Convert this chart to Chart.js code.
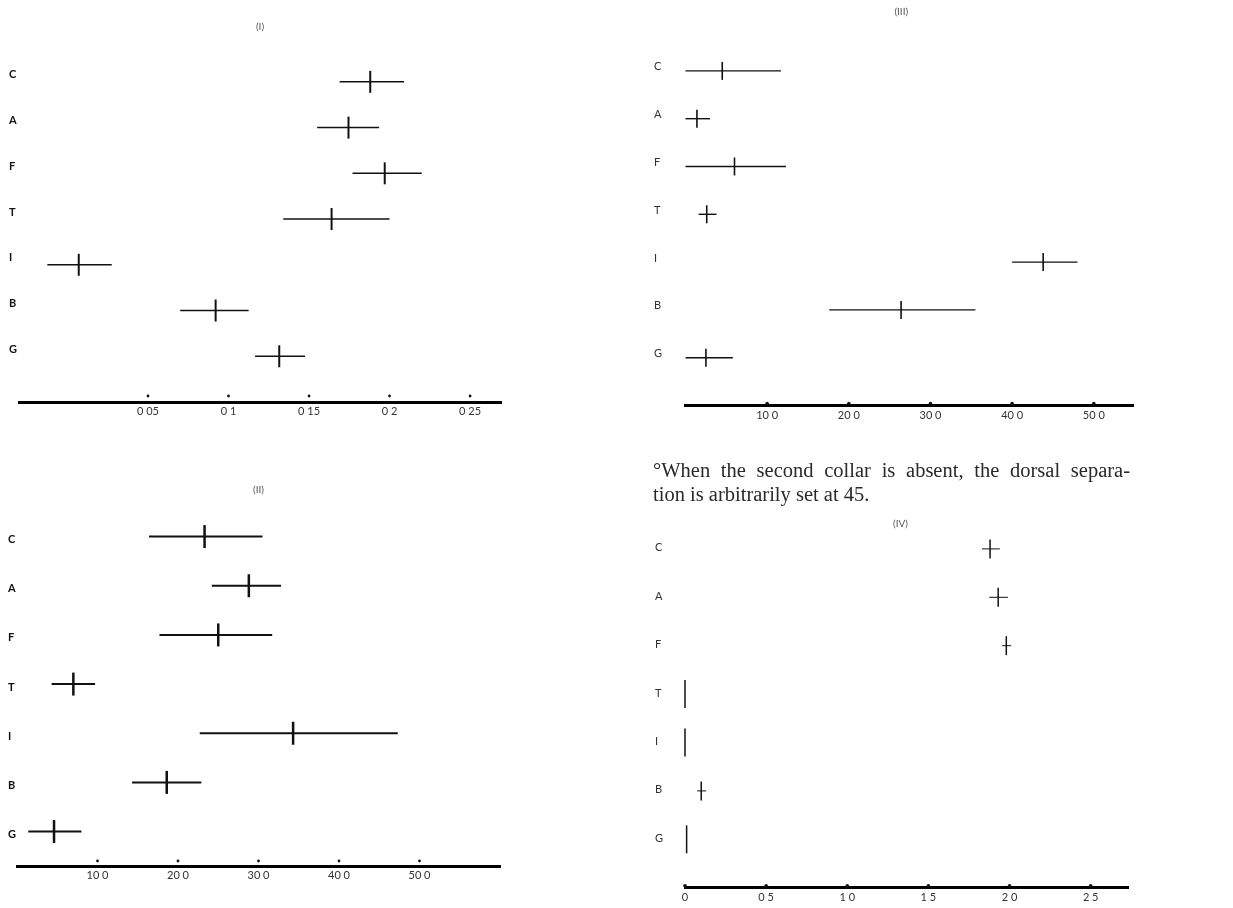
<!DOCTYPE html>
<html>
<head>
<meta charset="utf-8">
<script src="https://cdn.jsdelivr.net/npm/chart.js@4"></script>
<style>
  body { margin: 0; background: #fff; }
  #page { position: relative; width: 1233px; height: 908px; overflow: hidden; }
  canvas { position: absolute; }
  .note { position: absolute; font-family: "Liberation Serif", "DejaVu Serif", serif; font-size: 20.5px; line-height: 20px; color: #2a2a2a; white-space: nowrap; }
  #note1 { left: 653px; top: 460px; width: 477px; text-align: justify; text-align-last: justify; }
  #note2 { left: 653px; top: 484px; }
</style>
</head>
<body>
<div id="page">
  <canvas id="c1" width="600" height="440" style="left:0;top:0"></canvas>
  <canvas id="c3" width="613" height="440" style="left:620px;top:0"></canvas>
  <canvas id="c2" width="600" height="468" style="left:0;top:440px"></canvas>
  <canvas id="c4" width="613" height="468" style="left:620px;top:440px"></canvas>
  <div class="note" id="note1">°When the second collar is absent, the dorsal separa-</div>
  <div class="note" id="note2">tion is arbitrarily set at 45.</div>
</div>
<script>
// rows, top to bottom
const categories = ['C', 'A', 'F', 'T', 'I', 'B', 'G'];

// panel (I)
const meanI = [0.188, 0.1745, 0.197, 0.164, 0.007, 0.092, 0.1315];
const lowI = [0.169, 0.155, 0.177, 0.134, -0.0125, 0.070, 0.1165];
const highI = [0.209, 0.1935, 0.220, 0.200, 0.0275, 0.1125, 0.1475];
const tickValsI = [0.05, 0.1, 0.15, 0.2, 0.25];
const tickLabelsI = ['0 05', '0 1', '0 15', '0 2', '0 25'];

// panel (II)
const meanII = [23.3, 28.8, 25.0, 7.0, 34.3, 18.6, 4.6];
const lowII = [16.4, 24.2, 17.7, 4.3, 22.7, 14.3, 1.4];
const highII = [30.5, 32.8, 31.7, 9.7, 47.3, 22.9, 8.0];
const tickValsII = [10, 20, 30, 40, 50];
const tickLabelsII = ['10 0', '20 0', '30 0', '40 0', '50 0'];

// panel (III)
const meanIII = [4.5, 1.4, 6.0, 2.6, 43.8, 26.4, 2.5];
const lowIII = [0, 0, 0, 1.6, 40.0, 17.6, 0];
const highIII = [11.7, 3.0, 12.3, 3.8, 48.0, 35.5, 5.8];
const tickValsIII = [10, 20, 30, 40, 50];
const tickLabelsIII = ['10 0', '20 0', '30 0', '40 0', '50 0'];

// panel (IV)
const meanIV = [1.88, 1.93, 1.98, 0, 0, 0.10, 0.01];
const lowIV = [1.83, 1.875, 1.955, 0, 0, 0.075, 0.01];
const highIV = [1.94, 1.99, 2.01, 0, 0, 0.13, 0.01];
const tickValsIV = [0, 0.5, 1, 1.5, 2, 2.5];
const tickLabelsIV = ['0', '0 5', '1 0', '1 5', '2 0', '2 5'];

const AXIS_FONT = 'Lato, "DejaVu Sans", sans-serif';

// small dots / bumps at each x tick, above the axis line
const tickDots = {
  id: 'tickDots',
  afterDraw(chart, args, opts) {
    const x = chart.scales.x, ctx = chart.ctx;
    ctx.save();
    ctx.fillStyle = '#111';
    x.ticks.forEach(t => {
      ctx.beginPath();
      ctx.arc(x.getPixelForValue(t.value), chart.chartArea.bottom - opts.offset, opts.r, 0, Math.PI * 2);
      ctx.fill();
    });
    ctx.restore();
  }
};

// panel caption like (I), centred over the plot area
const panelTitle = {
  id: 'panelTitle',
  afterDraw(chart, args, opts) {
    const a = chart.chartArea, ctx = chart.ctx;
    ctx.save();
    ctx.font = '10px ' + AXIS_FONT;
    ctx.fillStyle = '#555';
    ctx.textAlign = 'center';
    ctx.textBaseline = 'middle';
    ctx.fillText(opts.text, (a.left + a.right) / 2 + (opts.dx || 0), opts.y);
    ctx.restore();
  }
};

function makePanel(id, p, mean, low, high, tickVals, tickLabels) {
  const n = categories.length;
  const datasets = [];
  // horizontal range lines, one per row
  categories.forEach((c, i) => {
    datasets.push({
      data: [{ x: low[i], y: n - i }, { x: high[i], y: n - i }],
      showLine: true,
      borderColor: '#111',
      borderWidth: p.lineW,
      pointRadius: 0,
      clip: false
    });
  });
  // vertical mark at the mean
  datasets.push({
    data: mean.map((v, i) => ({ x: v, y: n - i })),
    showLine: false,
    pointStyle: 'line',
    rotation: 90,
    pointRadius: ctx => (low[ctx.dataIndex] === high[ctx.dataIndex] ? p.tickR0 : p.tickR),
    pointBorderWidth: p.tickW,
    pointBorderColor: '#111',
    pointBackgroundColor: '#111',
    clip: false
  });

  new Chart(document.getElementById(id), {
    type: 'scatter',
    data: { datasets },
    plugins: [tickDots, panelTitle],
    options: {
      responsive: false,
      animation: false,
      layout: { padding: p.padding },
      plugins: {
        legend: { display: false },
        tooltip: { enabled: false },
        tickDots: { offset: p.dotOff, r: p.dotR },
        panelTitle: { text: p.title, y: p.titleY, dx: p.titleDx }
      },
      scales: {
        x: {
          type: 'linear',
          min: p.xMin,
          max: p.xMax,
          afterBuildTicks: s => { s.ticks = tickVals.map(v => ({ value: v })); },
          afterFit: s => { s.height = p.axisH; },
          grid: { display: false, drawTicks: false },
          border: { display: true, width: 3, color: '#000' },
          ticks: {
            padding: 3,
            color: '#333',
            font: { family: AXIS_FONT, size: 11 },
            maxRotation: 0,
            autoSkip: false,
            callback: (v, i) => tickLabels[i]
          }
        },
        y: {
          type: 'linear',
          min: p.yMin,
          max: p.yMax,
          afterBuildTicks: s => { s.ticks = categories.map((c, i) => ({ value: n - i })); },
          afterFit: s => { s.width = p.yWidth; },
          grid: { display: false, drawTicks: false },
          border: { display: false },
          ticks: {
            crossAlign: 'far',
            padding: 0,
            labelOffset: p.labelOffset,
            color: p.labelColor,
            font: { family: AXIS_FONT, size: 11, weight: p.labelWeight },
            callback: v => categories[n - v]
          }
        }
      }
    }
  });
}

makePanel('c1', {
  padding: { left: 9, right: 99, top: 59, bottom: 8 }, yWidth: 10, axisH: 30,
  xMin: -0.0301, xMax: 0.2692, yMin: 0, yMax: 7.5,
  lineW: 1.5, tickW: 2, tickR: 11, tickR0: 11, labelOffset: -7,
  labelColor: '#111', labelWeight: 'bold', dotOff: 6, dotR: 1.4,
  title: '(I)', titleY: 27, titleDx: 0
}, meanI, lowI, highI, tickValsI, tickLabelsI);

makePanel('c2', {
  padding: { left: 8, right: 100, top: 72, bottom: 12 }, yWidth: 9, axisH: 30,
  xMin: 0, xMax: 60, yMin: 0.3, yMax: 7.5,
  lineW: 2, tickW: 2.5, tickR: 11.5, tickR0: 11.5, labelOffset: 3,
  labelColor: '#111', labelWeight: 'bold', dotOff: 5, dotR: 1.4,
  title: '(II)', titleY: 50, titleDx: 0
}, meanII, lowII, highII, tickValsII, tickLabelsII);

makePanel('c3', {
  padding: { left: 34, right: 100, top: 47, bottom: 4.5 }, yWidth: 31.5, axisH: 30,
  xMin: 0, xMax: 54.8, yMin: 0, yMax: 7.5,
  lineW: 1.4, tickW: 1.6, tickR: 9, tickR0: 9, labelOffset: -4,
  labelColor: '#333', labelWeight: 'normal', dotOff: 2, dotR: 1.8,
  title: '(III)', titleY: 12, titleDx: -8
}, meanIII, lowIII, highIII, tickValsIII, tickLabelsIII);

makePanel('c4', {
  padding: { left: 35, right: 105, top: 84.7, bottom: 0.3 }, yWidth: 30, axisH: 20,
  xMin: 0, xMax: 2.73, yMin: 0, yMax: 7.5,
  lineW: 1, tickW: 1.5, tickR: 9.5, tickR0: 14, labelOffset: -1,
  labelColor: '#333', labelWeight: 'normal', dotOff: 2, dotR: 1.8,
  title: '(IV)', titleY: 84, titleDx: -6
}, meanIV, lowIV, highIV, tickValsIV, tickLabelsIV);
</script>
</body>
</html>
